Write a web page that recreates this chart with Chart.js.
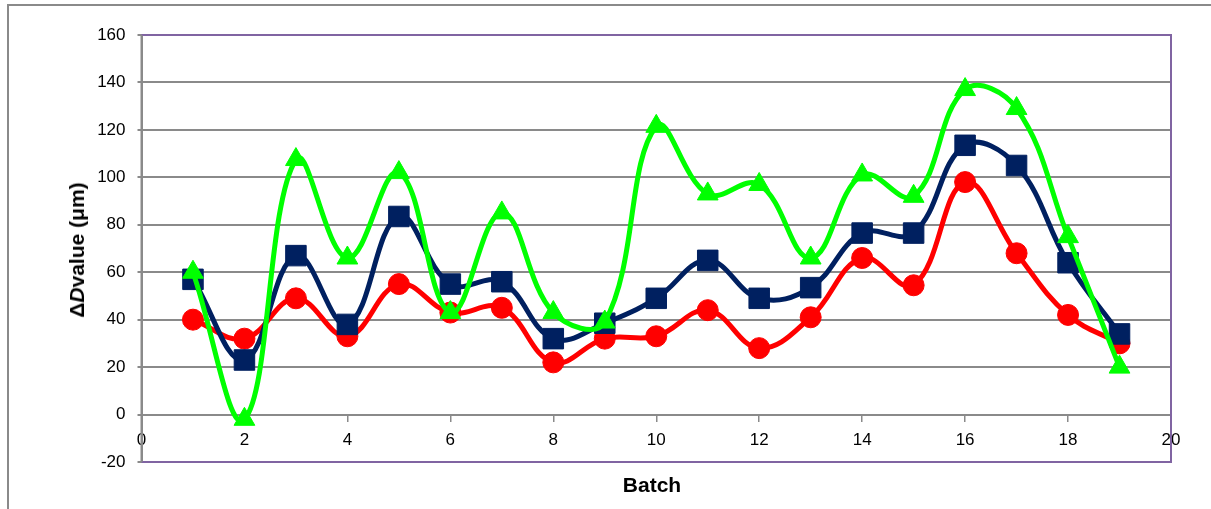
<!DOCTYPE html>
<html>
<head>
<meta charset="utf-8">
<script src="https://cdn.jsdelivr.net/npm/chart.js@4/dist/chart.umd.min.js"></script>
<style>
    body { margin: 0; background: #fff; }
    #wrap { position: relative; width: 1211px; height: 509px; overflow: hidden; font-family: "Liberation Sans", Arial, sans-serif; }
    #frame { position: absolute; left: 7px; top: 4px; width: 1400px; height: 700px; border-top: 2px solid #8a8a8a; border-left: 2px solid #8a8a8a; }
    canvas { position: absolute; left: 0; top: 0; }
    .title { position: absolute; font-weight: bold; font-size: 21px; white-space: nowrap; color: #000; transform: translate(-50%, -50%); }
    #ytitle { left: 77px; top: 250px; transform: translate(-50%, -50%) rotate(-90deg); }
    #xtitle { left: 652px; top: 485px; }
</style>
</head>
<body>
<div id="wrap">
    <div id="frame"></div>
    <canvas id="chart" width="1211" height="509"></canvas>
    <div class="title" id="ytitle">Δ<i>D</i>value (μm)</div>
    <div class="title" id="xtitle">Batch</div>
</div>
<script>
// Values
const batches = [1, 2, 3, 4, 5, 6, 7, 8, 9, 10, 11, 12, 13, 14, 15, 16, 17, 18, 19];
const redValues = [40, 32, 49, 33, 55, 43, 45, 22, 32, 33, 44, 28, 41, 66, 54.5, 98, 68, 42, 30];
const navyValues = [57, 23, 67, 38, 83.5, 55, 56, 32, 38.5, 49, 65, 49, 53.5, 76.5, 76.5, 113.5, 105, 64, 34];
const greenValues = [60, -2, 107.5, 66, 102, 43, 85, 43, 39, 121.5, 93, 97, 66, 101, 92, 137, 129, 75, 20];
const yTicks = [-20, 0, 20, 40, 60, 80, 100, 120, 140, 160];
const xTicks = [0, 2, 4, 6, 8, 10, 12, 14, 16, 18, 20];

const gray = '#8a8a8a';
const purple = '#8064A2';

function pts(values) {
    return batches.map((b, i) => ({ x: b, y: values[i] }));
}

// purple plot frame (top, right, bottom), gray left axis
const plotFrame = {
    id: 'plotFrame',
    beforeDatasetsDraw(chart) {
        const { ctx, chartArea: a } = chart;
        ctx.save();
        ctx.lineWidth = 2;
        ctx.strokeStyle = purple;
        ctx.beginPath();
        ctx.moveTo(a.left, a.top);
        ctx.lineTo(a.right, a.top);
        ctx.lineTo(a.right, a.bottom);
        ctx.lineTo(a.left, a.bottom);
        ctx.stroke();
        ctx.strokeStyle = gray;
        ctx.beginPath();
        ctx.moveTo(a.left, a.top);
        ctx.lineTo(a.left, a.bottom);
        ctx.stroke();
        ctx.restore();
    }
};

new Chart(document.getElementById('chart'), {
    type: 'line',
    data: {
        datasets: [
            {
                data: pts(redValues),
                borderColor: '#FF0000',
                backgroundColor: '#FF0000',
                pointStyle: 'circle',
                pointRadius: 10.5,
                order: 2
            },
            {
                data: pts(navyValues),
                borderColor: '#002060',
                backgroundColor: '#002060',
                pointStyle: 'rect',
                pointRadius: 14.5,
                order: 1
            },
            {
                data: pts(greenValues),
                borderColor: '#00FF00',
                backgroundColor: '#00FF00',
                pointStyle: 'triangle',
                pointRadius: 12,
                order: 0
            }
        ]
    },
    options: {
        responsive: false,
        devicePixelRatio: 1,
        animation: false,
        layout: { padding: { left: 96.5, right: 40, top: 35, bottom: 47 } },
        elements: {
            line: { borderWidth: 5, tension: 0.4, fill: false },
            point: { borderWidth: 1, hoverRadius: 10 }
        },
        plugins: {
            legend: { display: false },
            tooltip: { enabled: false }
        },
        scales: {
            x: {
                type: 'linear',
                position: { y: 0 },
                min: 0,
                max: 20,
                afterBuildTicks: (scale) => { scale.ticks = xTicks.map(v => ({ value: v })); },
                ticks: {
                    color: '#000',
                    padding: 10,
                    font: { family: 'Liberation Sans', size: 17 }
                },
                grid: { drawOnChartArea: false, drawTicks: true, tickLength: 6, color: gray, lineWidth: 1.5 },
                border: { display: true, color: gray, width: 2 }
            },
            y: {
                min: -20,
                max: 160,
                afterBuildTicks: (scale) => { scale.ticks = yTicks.map(v => ({ value: v })); },
                afterFit: (scale) => { scale.width = 45; },
                ticks: {
                    color: '#000',
                    padding: 12,
                    font: { family: 'Liberation Sans', size: 17 }
                },
                grid: { color: gray, lineWidth: 2, tickLength: 4 },
                border: { display: true, color: gray, width: 2 }
            }
        }
    },
    plugins: [plotFrame]
});
</script>
</body>
</html>
